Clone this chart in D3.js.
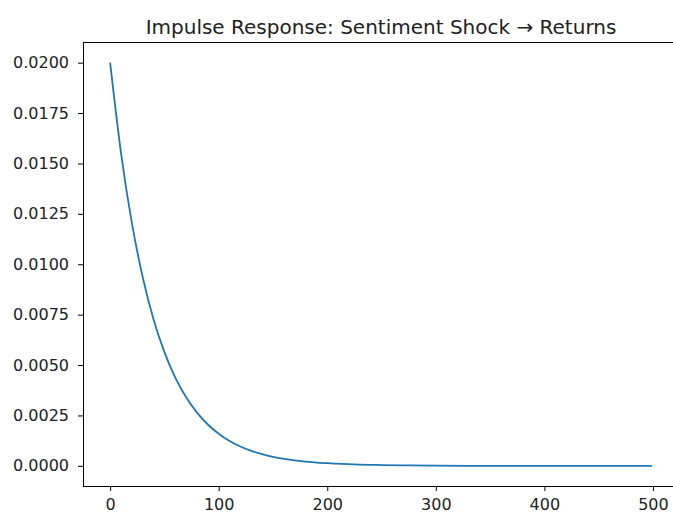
<!DOCTYPE html>
<html>
<head>
<meta charset="utf-8">
<script src="https://cdn.jsdelivr.net/npm/d3@7"></script>
<style>
  body { margin: 0; background: #fff; }
  svg { display: block; font-family: "DejaVu Sans", sans-serif; }
</style>
</head>
<body>
<svg width="673" height="513"></svg>
<script>
// horizon (steps) and response values
const steps = [0, 10, 20, 30, 40, 50, 60, 70, 80, 90, 100, 110, 120, 130, 140, 150,
               160, 170, 180, 190, 200, 225, 250, 275, 300, 350, 400, 450, 499];
const response = [0.0200, 0.01553, 0.01205, 0.00936, 0.00726, 0.00564, 0.00438, 0.00340,
                  0.00264, 0.00205, 0.00159, 0.00123, 0.00096, 0.00074, 0.00058, 0.00045,
                  0.00035, 0.00027, 0.00021, 0.00016, 0.00013, 0.00007, 0.00004, 0.00002,
                  0.00001, 0.0, 0.0, 0.0, 0.0];
const xTicks = [0, 100, 200, 300, 400, 500];
const yTicks = [0, 0.0025, 0.005, 0.0075, 0.01, 0.0125, 0.015, 0.0175, 0.02];
const title = "Impulse Response: Sentiment Shock \u2192 Returns";

const svg = d3.select("svg");
const m = { left: 83, right: 679, top: 42.5, bottom: 486 };

const data = steps.map((s, i) => ({ t: s, v: response[i] }));

const x = d3.scaleLinear()
    .domain([-25, 524])
    .range([m.left, m.right]);

const y = d3.scaleLinear()
    .domain([-0.001, 0.021])
    .range([m.bottom, m.top]);

// line
svg.append("path")
    .datum(data)
    .attr("fill", "none")
    .attr("stroke", "#1f77b4")
    .attr("stroke-width", 1.8)
    .attr("d", d3.line()
        .x(d => x(d.t))
        .y(d => y(d.v))
        .curve(d3.curveMonotoneX));

// axes
const xAxis = svg.append("g")
    .attr("transform", `translate(0,${m.bottom})`)
    .call(d3.axisBottom(x).tickValues(xTicks).tickSize(5).tickPadding(8).tickFormat(d3.format("d")));

const yAxis = svg.append("g")
    .attr("transform", `translate(${m.left},0)`)
    .call(d3.axisLeft(y).tickValues(yTicks).tickSize(5).tickPadding(9).tickFormat(d3.format(".4f")));

[xAxis, yAxis].forEach(g => {
  g.select(".domain").attr("stroke", "#000").attr("stroke-width", 1);
  g.selectAll(".tick line").attr("stroke", "#000").attr("stroke-width", 1);
  g.selectAll(".tick text")
      .attr("fill", "#222")
      .style("font-size", "16px")
      .style("font-family", "DejaVu Sans, sans-serif");
});
xAxis.select(".domain").attr("d", `M${m.left},0.5H${m.right}`);
yAxis.select(".domain").attr("d", `M0.5,${m.bottom}V${m.top}`);

// top spine
svg.append("line")
    .attr("x1", m.left).attr("x2", m.right)
    .attr("y1", m.top).attr("y2", m.top)
    .attr("stroke", "#000")
    .attr("stroke-width", 1);

svg.append("text")
    .attr("x", (m.left + m.right) / 2)
    .attr("y", 34)
    .attr("text-anchor", "middle")
    .style("font-size", "20px")
    .attr("fill", "#222")
    .text(title);
</script>
</body>
</html>
